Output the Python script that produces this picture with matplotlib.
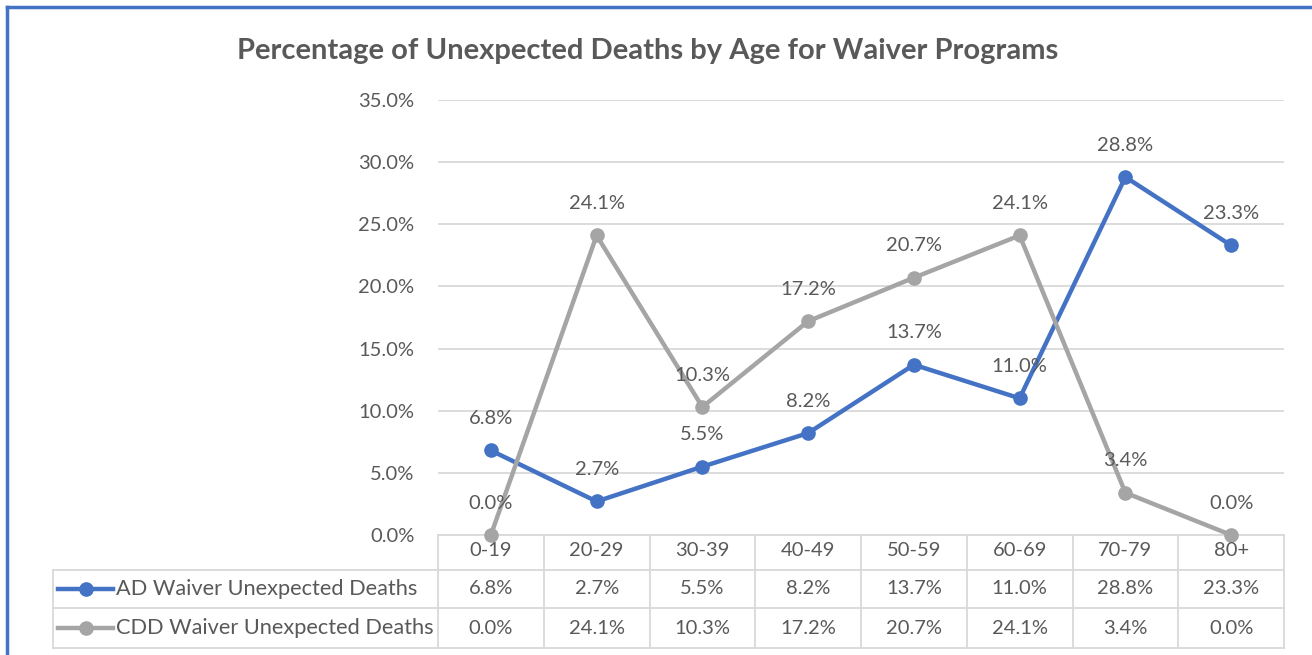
import matplotlib; matplotlib.use("Agg")
import matplotlib.pyplot as plt
from matplotlib.lines import Line2D
from matplotlib.ticker import FuncFormatter

ages = ["0-19", "20-29", "30-39", "40-49", "50-59", "60-69", "70-79", "80+"]
ad_vals  = [6.8, 2.7, 5.5, 8.2, 13.7, 11.0, 28.8, 23.3]
cdd_vals = [0.0, 24.1, 10.3, 17.2, 20.7, 24.1, 3.4, 0.0]
series_names = ["AD Waiver Unexpected Deaths", "CDD Waiver Unexpected Deaths"]
colors = ["#4472C4", "#A5A5A5"]
TXT = "#595959"
GRID = "#D9D9D9"

plt.rcParams["font.family"] = ["Lato", "DejaVu Sans"]
W, H = 1312, 655
fig = plt.figure(figsize=(W/100, H/100), dpi=100)

def fx(x): return x / W
def fy(y): return 1 - y / H

# plot area (pixels): x 438..1284, y 100..535
ax = fig.add_axes([fx(438), fy(535), fx(1284) - fx(438), fy(100) - fy(535)])
ax.set_xlim(-0.5, len(ages) - 0.5)
ax.set_ylim(0, 35)
ax.set_yticks([0, 5, 10, 15, 20, 25, 30, 35])
ax.yaxis.set_major_formatter(FuncFormatter(lambda v, p: f"{v:.1f}%"))
ax.tick_params(axis="y", length=0, pad=17, labelsize=14.5, labelcolor=TXT)
ax.set_xticks([])
for s in ax.spines.values():
    s.set_visible(False)
ax.grid(axis="y", color=GRID, lw=1.3)
ax.set_axisbelow(True)

x = range(len(ages))
for vals, c in zip([ad_vals, cdd_vals], colors):
    ax.plot(x, vals, color=c, lw=3.2, marker="o", ms=9.5, zorder=3, clip_on=False)
    for xi, v in zip(x, vals):
        ax.annotate(f"{v:.1f}%", (xi, v), xytext=(0, 23), textcoords="offset points",
                    ha="center", va="center", fontsize=14.5, color=TXT, annotation_clip=False)

# data table below the plot
def ay(y): return (535 - y) / 435
tx = ax.get_xaxis_transform()
row_lines = [570, 608, 648]
x_left = (53 - 438) / 846
lk = dict(color=GRID, lw=1.3, clip_on=False)
ax.plot([-0.5, len(ages) - 0.5], [0, 0], transform=tx, **lk)
for yl in row_lines:
    ax.plot([x_left, 1], [ay(yl), ay(yl)], transform=ax.transAxes, **lk)
ax.plot([x_left, x_left], [ay(570), ay(648)], transform=ax.transAxes, **lk)
for k in range(len(ages) + 1):
    ax.plot([k - 0.5, k - 0.5], [0, ay(648)], transform=tx, **lk)

for i, a in enumerate(ages):
    ax.text(i, ay(551), a, transform=tx, ha="center", va="center", fontsize=14.5, color=TXT)

for r, (name, vals, c) in enumerate(zip(series_names, [ad_vals, cdd_vals], colors)):
    yc = ay([589, 628][r])
    x0, x1, xm = (58 - 438) / 846, (113 - 438) / 846, (86 - 438) / 846
    ax.plot([x0, x1], [yc, yc], transform=ax.transAxes, color=c, lw=3.2, clip_on=False)
    ax.plot([xm], [yc], transform=ax.transAxes, color=c, marker="o", ms=9.5, clip_on=False)
    ax.text((116 - 438) / 846, yc, name, transform=ax.transAxes, ha="left", va="center",
            fontsize=15.7, color=TXT)
    for i, v in enumerate(vals):
        ax.text(i, yc, f"{v:.1f}%", transform=tx, ha="center", va="center", fontsize=14.5, color=TXT)

fig.text(fx(648), fy(51), "Percentage of Unexpected Deaths by Age for Waiver Programs",
         ha="center", va="center", fontsize=21, fontweight="bold", color=TXT)

# chart border (left and top visible)
fig.add_artist(Line2D([fx(7), fx(7)], [fy(7), 0], color="#4472C4", lw=2.5))
fig.add_artist(Line2D([fx(7), 1], [fy(7), fy(7)], color="#4472C4", lw=2.5))

fig.savefig("out.png", dpi=100)
